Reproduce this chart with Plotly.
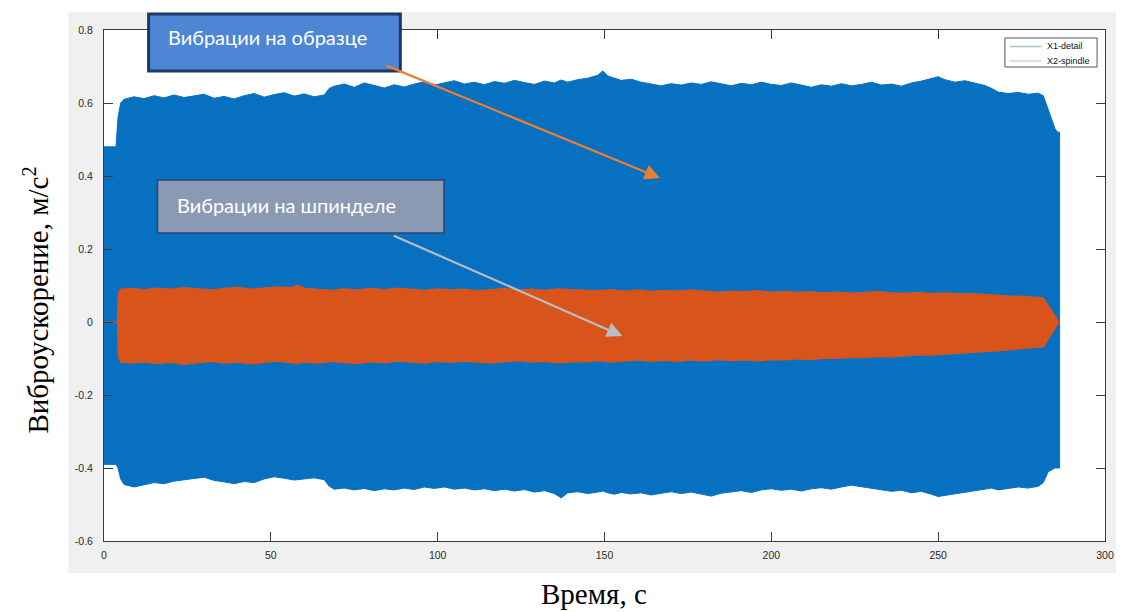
import plotly.graph_objects as go

# ---------------- data ----------------
series_names = ["X1-detail", "X2-spindle"]

# X1 (vibration on the specimen): envelope of the signal, time in s
t_x1 = [0, 3.6, 4.2, 5.0, 6, 9, 12, 15, 18, 21, 24, 27, 30, 33, 36, 39, 42, 45, 48, 51,
        54, 57, 60, 63, 66, 67.5, 69, 72, 75, 78, 81, 84, 87, 90, 93, 96, 99, 102, 105, 108,
        111, 114, 117, 120, 123, 126, 129, 132, 135, 137, 139, 142, 145, 148, 149.5, 151, 153,
        155, 158, 161, 164, 167, 170, 173, 176, 179, 182, 185, 188, 191, 194, 197, 200, 203,
        206, 209, 212, 215, 218, 221, 224, 227, 230, 233, 236, 239, 242, 245, 248, 250, 252,
        255, 258, 261, 264, 266, 268, 271, 274, 277, 280, 281.5, 283, 285, 285.8, 286.4]
x1_upper = [0.48, 0.48, 0.56, 0.60, 0.61, 0.617, 0.612, 0.62, 0.614, 0.622, 0.615, 0.619,
            0.624, 0.613, 0.618, 0.611, 0.62, 0.626, 0.616, 0.623, 0.628, 0.619, 0.625, 0.617,
            0.622, 0.64, 0.646, 0.652, 0.643, 0.655, 0.647, 0.641, 0.65, 0.644, 0.652, 0.658,
            0.649, 0.655, 0.661, 0.652, 0.657, 0.65, 0.659, 0.654, 0.662, 0.656, 0.651, 0.66,
            0.655, 0.663, 0.657, 0.664, 0.668, 0.676, 0.688, 0.674, 0.668, 0.662, 0.665, 0.657,
            0.652, 0.647, 0.653, 0.649, 0.655, 0.651, 0.658, 0.652, 0.647, 0.654, 0.65, 0.657,
            0.651, 0.648, 0.655, 0.649, 0.643, 0.65, 0.646, 0.653, 0.647, 0.651, 0.657, 0.649,
            0.652, 0.646, 0.655, 0.66, 0.668, 0.672, 0.664, 0.657, 0.661, 0.654, 0.648, 0.64,
            0.63, 0.626, 0.629, 0.624, 0.627, 0.62, 0.58, 0.53, 0.52, 0.52]
x1_lower = [-0.39, -0.39, -0.40, -0.43, -0.445, -0.452, -0.446, -0.44, -0.443, -0.436, -0.432,
            -0.428, -0.425, -0.434, -0.438, -0.443, -0.437, -0.44, -0.43, -0.424, -0.428, -0.433,
            -0.43, -0.427, -0.432, -0.45, -0.458, -0.455, -0.46, -0.456, -0.462, -0.457, -0.46,
            -0.455, -0.459, -0.452, -0.456, -0.452, -0.458, -0.455, -0.46, -0.457, -0.462,
            -0.458, -0.463, -0.459, -0.466, -0.462, -0.47, -0.482, -0.468, -0.465, -0.47, -0.466,
            -0.463, -0.468, -0.472, -0.467, -0.471, -0.468, -0.474, -0.469, -0.465, -0.47,
            -0.466, -0.472, -0.477, -0.469, -0.466, -0.462, -0.467, -0.46, -0.457, -0.461,
            -0.458, -0.463, -0.457, -0.454, -0.458, -0.452, -0.447, -0.45, -0.455, -0.46, -0.464,
            -0.461, -0.468, -0.464, -0.472, -0.478, -0.475, -0.471, -0.466, -0.462, -0.458,
            -0.455, -0.46, -0.457, -0.452, -0.455, -0.45, -0.44, -0.41, -0.40, -0.40, -0.40]

# X2 (vibration on the spindle): envelope of the signal
t_x2 = [0, 4.0, 4.3, 5, 8, 12, 16, 20, 24, 28, 32, 36, 40, 44, 48, 52, 56, 58,
        60, 64, 68, 72, 76, 80, 84, 88, 92, 96, 100, 104, 108, 112, 116, 120, 124, 128,
        132, 136, 140, 144, 148, 152, 156, 160, 164, 168, 172, 176, 180, 184, 188, 192,
        196, 200, 204, 208, 212, 216, 220, 224, 228, 232, 236, 240, 244, 248, 252, 256,
        260, 264, 268, 272, 276, 279, 281.5, 286.2]
x2_upper = [0, 0, 0.08, 0.09, 0.092, 0.089, 0.093, 0.09, 0.094, 0.091, 0.088, 0.092, 0.095,
            0.09, 0.093, 0.096, 0.094, 0.101,
            0.093, 0.09, 0.087, 0.091, 0.088, 0.092, 0.089, 0.093, 0.09, 0.087,
            0.091, 0.088, 0.09, 0.086, 0.089, 0.092, 0.088, 0.09, 0.087, 0.091,
            0.089, 0.088, 0.086, 0.089, 0.085, 0.088, 0.084, 0.087, 0.085, 0.088,
            0.084, 0.082, 0.085, 0.083, 0.086, 0.082, 0.084, 0.081, 0.083, 0.08,
            0.082, 0.079, 0.081, 0.083, 0.08, 0.079, 0.081, 0.078, 0.08, 0.077,
            0.078, 0.075, 0.073, 0.071, 0.07,
            0.068, 0.066, 0]
x2_lower = [0, 0, -0.095, -0.11, -0.113, -0.109, -0.114, -0.111, -0.116, -0.112, -0.108, -0.113,
            -0.11, -0.115, -0.111, -0.107, -0.112, -0.114,
            -0.11, -0.113, -0.108, -0.111, -0.114, -0.109, -0.112, -0.107, -0.11, -0.113,
            -0.108, -0.111, -0.107, -0.11, -0.113, -0.109, -0.106, -0.11, -0.108, -0.112,
            -0.109, -0.109, -0.106, -0.11, -0.107, -0.104, -0.108, -0.105, -0.108, -0.104,
            -0.107, -0.103, -0.106, -0.104, -0.107, -0.103, -0.104, -0.101, -0.103, -0.099,
            -0.1, -0.097, -0.098, -0.095, -0.096, -0.092, -0.09, -0.091, -0.088, -0.086,
            -0.084, -0.081, -0.079, -0.076, -0.073,
            -0.07, -0.068, 0]

x_ticks = [0, 50, 100, 150, 200, 250, 300]
x_ticklabels = ["0", "50", "100", "150", "200", "250", "300"]
y_ticks = [-0.6, -0.4, -0.2, 0, 0.2, 0.4, 0.6, 0.8]
y_ticklabels = ["-0.6", "-0.4", "-0.2", "0", "0.2", "0.4", "0.6", "0.8"]

x_title = "Время, с"
y_title = "Виброускорение, м/с<sup>2</sup>"
label_specimen = "Вибрации на образце"
label_spindle = "Вибрации на шпинделе"

assert len(t_x1) == len(x1_upper) == len(x1_lower)
assert len(t_x2) == len(x2_upper) == len(x2_lower)

# ---------------- styling ----------------
W_FIG, H_FIG = 1125, 612
L, R, T, B = 104, 11, 30, 71
PW, PH = W_FIG - L - R, H_FIG - T - B


def px(xp):
    return (xp - L) / PW


def py(yp):
    return 1 - (yp - T) / PH


BLUE = "#0770c0"
ORANGE = "#d8541a"
AXIS = "#3a3a3a"
TICKFONT = dict(family="Liberation Sans, Arial", size=10.5, color="#2a2a2a")

fig = go.Figure()

fig.add_trace(go.Scatter(
    x=t_x1 + t_x1[::-1], y=x1_upper + x1_lower[::-1],
    mode="lines", fill="toself", fillcolor=BLUE,
    line=dict(color=BLUE, width=1), name=series_names[0],
    showlegend=False, hoverinfo="skip"))
fig.add_trace(go.Scatter(
    x=t_x2 + t_x2[::-1], y=x2_upper + x2_lower[::-1],
    mode="lines", fill="toself", fillcolor=ORANGE,
    line=dict(color=ORANGE, width=1.2), name=series_names[1],
    showlegend=False, hoverinfo="skip"))

shapes = [
    # grey MATLAB figure background
    dict(type="rect", xref="paper", yref="paper", x0=px(68), x1=px(1125), y0=py(573), y1=py(12),
         fillcolor="#f0f0f0", line=dict(width=0), layer="below"),
    # white axes area
    dict(type="rect", xref="paper", yref="paper", x0=0, x1=1, y0=0, y1=1,
         fillcolor="white", line=dict(width=0), layer="below"),
    # legend box
    dict(type="rect", xref="paper", yref="paper", x0=px(1013), x1=px(1106), y0=py(67), y1=py(38),
         fillcolor="white", line=dict(color="#555555", width=1), layer="above"),
    dict(type="line", xref="paper", yref="paper", x0=px(1018), x1=px(1050), y0=py(46.5), y1=py(46.5),
         line=dict(color="#a9c4c8", width=1.5), layer="above"),
    dict(type="line", xref="paper", yref="paper", x0=px(1018), x1=px(1050), y0=py(61), y1=py(61),
         line=dict(color="#e2d2bf", width=1.5), layer="above"),
    # callout boxes
    dict(type="rect", xref="paper", yref="paper", x0=px(149), x1=px(403), y0=py(71), y1=py(14),
         fillcolor="#4e86d6", line=dict(color="#1f3763", width=3), layer="above"),
    dict(type="rect", xref="paper", yref="paper", x0=px(158), x1=px(447), y0=py(233), y1=py(180),
         fillcolor="#8a9ab3", line=dict(color="#2e4374", width=1.5), layer="above"),
]

annotations = [
    dict(xref="paper", yref="paper", x=px(1053), y=py(46.5), text=series_names[0], showarrow=False,
         xanchor="left", yanchor="middle", font=dict(family="Liberation Sans, Arial", size=9, color="#111")),
    dict(xref="paper", yref="paper", x=px(1053), y=py(61), text=series_names[1], showarrow=False,
         xanchor="left", yanchor="middle", font=dict(family="Liberation Sans, Arial", size=9, color="#111")),
    dict(xref="paper", yref="paper", x=px(167), y=py(37), text=label_specimen, showarrow=False,
         xanchor="left", yanchor="middle", font=dict(family="Lato", size=20, color="white")),
    dict(xref="paper", yref="paper", x=px(176), y=py(205), text=label_spindle, showarrow=False,
         xanchor="left", yanchor="middle", font=dict(family="Lato", size=20, color="white")),
    # arrows
    dict(xref="paper", yref="paper", x=px(665), y=py(178), ax=-275, ay=-113, text="", showarrow=True,
         arrowhead=2, arrowsize=1.4, arrowwidth=2.2, arrowcolor="#ed7d31", standoff=0),
    dict(xref="paper", yref="paper", x=px(627), y=py(336), ax=-230, ay=-101, text="", showarrow=True,
         arrowhead=2, arrowsize=1.4, arrowwidth=2.2, arrowcolor="#b8bdc4", standoff=0),
    # axis titles
    dict(xref="paper", yref="paper", x=px(598), y=py(594), text=x_title, showarrow=False,
         xanchor="center", yanchor="middle",
         font=dict(family="Liberation Serif, Times New Roman", size=29, color="black")),
    dict(xref="paper", yref="paper", x=px(35), y=py(300), text=y_title, showarrow=False,
         textangle=-90, xanchor="center", yanchor="middle",
         font=dict(family="Liberation Serif, Times New Roman", size=29, color="black")),
]

fig.update_layout(
    width=W_FIG, height=H_FIG,
    margin=dict(l=L, r=R, t=T, b=B, pad=0),
    paper_bgcolor="white", plot_bgcolor="white",
    showlegend=False,
    shapes=shapes, annotations=annotations,
    xaxis=dict(range=[0, 300], tickvals=x_ticks, ticktext=x_ticklabels, ticks="inside", ticklen=9,
               tickcolor=AXIS, tickwidth=1, showline=True, linecolor=AXIS, linewidth=1,
               mirror="ticks", showgrid=False, zeroline=False, tickfont=TICKFONT,
               ticklabelstandoff=4),
    yaxis=dict(range=[-0.6, 0.8], tickvals=y_ticks, ticktext=y_ticklabels, ticks="inside", ticklen=9,
               tickcolor=AXIS, tickwidth=1, showline=True, linecolor=AXIS, linewidth=1,
               mirror="ticks", showgrid=False, zeroline=False, tickfont=TICKFONT,
               ticklabelstandoff=8),
)

fig.write_html("out.html", config={"displayModeBar": False},
               post_script="document.body.style.margin='0';document.body.style.overflow='hidden';")
